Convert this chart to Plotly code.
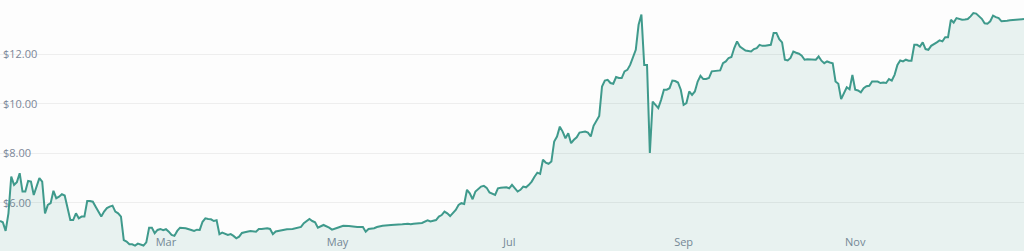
import pandas as pd
import plotly.graph_objects as go

# Day of year (0 = 1 Jan 2021) and closing price in USD
day_of_year = [
    0, 1, 2, 3, 4, 5, 6, 7, 8, 9, 10, 11, 12, 13, 14, 15, 16, 17, 18, 19,
    20, 21, 22, 23, 24, 25, 26, 27, 28, 29, 30, 31, 32, 33, 34, 35, 36, 37, 38, 39,
    40, 41, 42, 43, 44, 45, 46, 47, 48, 49, 50, 51, 52, 53, 54, 55, 56, 57, 58, 59,
    60, 61, 62, 63, 64, 66, 68, 69, 70, 71, 72, 73, 74, 75, 76, 77, 78, 79, 81, 82,
    83, 84, 85, 86, 87, 89, 91, 92, 93, 95, 96, 97, 98, 99, 100, 102, 104, 105, 107, 108,
    110, 111, 112, 113, 115, 117, 118, 120, 122, 124, 126, 127, 129, 130, 131, 133, 134, 136, 139, 141,
    143, 145, 146, 147, 149, 150, 152, 153, 155, 156, 157, 158, 159, 160, 162, 163, 164, 165, 166, 167,
    168, 169, 171, 172, 173, 174, 176, 177, 178, 180, 181, 182, 184, 185, 186, 187, 188, 189, 190, 191,
    192, 193, 194, 195, 196, 197, 198, 199, 200, 201, 202, 203, 204, 205, 206, 208, 209, 210, 211, 213,
    214, 215, 216, 217, 218, 219, 220, 221, 222, 223, 224, 225, 226, 227, 228, 229, 230, 231, 232, 233,
    234, 235, 236, 237, 238, 239, 240, 241, 242, 243, 244, 245, 246, 247, 248, 249, 250, 251, 252, 253,
    254, 255, 256, 257, 258, 259, 260, 261, 262, 263, 264, 265, 266, 267, 268, 269, 270, 271, 272, 273,
    274, 275, 276, 277, 278, 279, 280, 281, 282, 283, 284, 285, 286, 287, 288, 289, 290, 291, 292, 293,
    294, 295, 296, 297, 298, 299, 300, 301, 302, 303, 304, 305, 306, 307, 308, 309, 310, 311, 312, 313,
    314, 315, 316, 317, 318, 319, 320, 321, 322, 323, 324, 325, 326, 327, 328, 329, 330, 331, 332, 333,
    334, 335, 336, 337, 338, 339, 340, 341, 342, 343, 344, 345, 346, 347, 348, 349, 350, 351, 352, 353,
    354, 355, 356, 357, 358, 359, 360, 361, 362, 364,
]
price = [
    5.27, 5.22, 4.87, 5.58, 7.06, 6.73, 6.84, 7.20, 6.46, 6.46, 6.89, 6.86, 6.32, 6.68, 7.00, 6.86, 5.58, 5.92, 5.99, 6.49,
    6.19, 6.25, 6.35, 6.30, 5.79, 5.31, 5.31, 5.58, 5.38, 5.45, 5.45, 6.08, 6.08, 6.05, 5.85, 5.65, 5.45, 5.65, 5.79, 5.85,
    5.89, 5.65, 5.58, 5.45, 4.50, 4.44, 4.33, 4.33, 4.28, 4.36, 4.33, 4.28, 4.41, 5.00, 5.00, 4.78, 4.91, 4.95, 4.90, 4.94,
    4.84, 4.71, 4.67, 4.87, 5.00, 4.98, 4.91, 4.87, 4.92, 4.91, 5.24, 5.38, 5.35, 5.34, 5.27, 5.30, 4.74, 4.80, 4.71, 4.74,
    4.67, 4.57, 4.64, 4.79, 4.82, 4.87, 4.84, 4.95, 4.95, 4.98, 4.95, 4.74, 4.85, 4.87, 4.91, 4.94, 4.95, 4.98, 5.03, 5.18,
    5.35, 5.27, 5.22, 5.00, 5.11, 5.00, 4.92, 5.00, 5.08, 5.07, 5.04, 5.03, 5.03, 4.84, 4.95, 4.98, 5.03, 5.08, 5.11, 5.14,
    5.14, 5.16, 5.14, 5.16, 5.16, 5.19, 5.30, 5.25, 5.31, 5.45, 5.51, 5.65, 5.58, 5.47, 5.72, 5.92, 5.99, 5.96, 6.53, 6.39,
    6.15, 6.46, 6.66, 6.69, 6.61, 6.42, 6.32, 6.59, 6.61, 6.63, 6.59, 6.73, 6.46, 6.53, 6.66, 6.63, 6.73, 6.86, 7.06, 7.22,
    7.17, 7.74, 7.63, 7.58, 7.67, 8.48, 8.68, 9.08, 8.88, 8.61, 8.81, 8.41, 8.55, 8.65, 8.84, 8.88, 8.84, 8.68, 9.11, 9.51,
    10.70, 10.94, 10.97, 10.84, 10.81, 11.08, 11.04, 11.04, 11.31, 11.37, 11.57, 11.91, 12.18, 13.19, 13.60, 11.57, 11.57, 8.02, 10.09, 9.96,
    9.83, 10.16, 10.57, 10.57, 10.63, 10.94, 10.92, 10.86, 10.57, 9.96, 10.03, 10.50, 10.36, 10.50, 10.90, 11.13, 11.00, 11.00, 11.04, 11.31,
    11.33, 11.35, 11.35, 11.64, 11.71, 11.85, 11.89, 12.25, 12.52, 12.31, 12.21, 12.15, 12.13, 12.11, 12.21, 12.25, 12.38, 12.34, 12.34, 12.36,
    12.38, 12.86, 12.86, 12.61, 12.48, 11.78, 11.75, 11.85, 12.11, 12.06, 12.02, 11.94, 11.78, 11.80, 11.80, 11.79, 11.78, 11.91, 11.74, 11.64,
    11.71, 11.67, 11.64, 10.90, 10.81, 10.19, 10.40, 10.67, 10.59, 11.17, 10.57, 10.54, 10.46, 10.63, 10.71, 10.73, 10.90, 10.90, 10.90, 10.84,
    10.86, 10.84, 11.00, 10.94, 11.17, 11.57, 11.75, 11.71, 11.78, 11.74, 11.74, 12.38, 12.38, 12.31, 12.48, 12.21, 12.18, 12.34, 12.40, 12.48,
    12.56, 12.52, 12.69, 12.69, 13.39, 13.28, 13.46, 13.42, 13.39, 13.40, 13.42, 13.53, 13.66, 13.64, 13.53, 13.43, 13.25, 13.23, 13.33, 13.56,
    13.50, 13.46, 13.33, 13.33, 13.35, 13.37, 13.38, 13.39, 13.39, 13.42,
]

x_tick_dates = ["2021-03-01", "2021-05-01", "2021-07-01", "2021-09-01", "2021-11-01"]
x_tick_labels = ["Mar", "May", "Jul", "Sep", "Nov"]
y_tick_values = [6, 8, 10, 12]
y_tick_labels = ["$6.00", "$8.00", "$10.00", "$12.00"]

dates = pd.Timestamp("2021-01-01") + pd.to_timedelta(day_of_year, unit="D")

fig = go.Figure(
    go.Scatter(
        x=dates,
        y=price,
        mode="lines",
        line=dict(color="#3f9a8c", width=2),
        fill="tozeroy",
        fillcolor="rgba(63,154,140,0.11)",
        hoverinfo="skip",
    )
)

label_font = dict(family="Open Sans, Noto Sans, sans-serif", size=11, color="#7b8698")

fig.update_layout(
    width=1024,
    height=251,
    margin=dict(l=0, r=0, t=0, b=0),
    paper_bgcolor="#fdfdfd",
    plot_bgcolor="#fdfdfd",
    showlegend=False,
    xaxis=dict(
        range=[dates[0], dates[-1]],
        tickvals=x_tick_dates,
        ticktext=x_tick_labels,
        ticklabelposition="inside",
        showgrid=False,
        zeroline=False,
        showline=False,
        ticks="",
        tickfont=label_font,
        layer="below traces",
    ),
    yaxis=dict(
        range=[4.06, 14.19],
        tickvals=y_tick_values,
        ticktext=y_tick_labels,
        ticklabelposition="inside",
        showgrid=True,
        gridcolor="#eeeeee",
        gridwidth=1,
        zeroline=False,
        showline=False,
        ticks="",
        tickfont=label_font,
        layer="below traces",
    ),
)

fig.write_html("out.html")
